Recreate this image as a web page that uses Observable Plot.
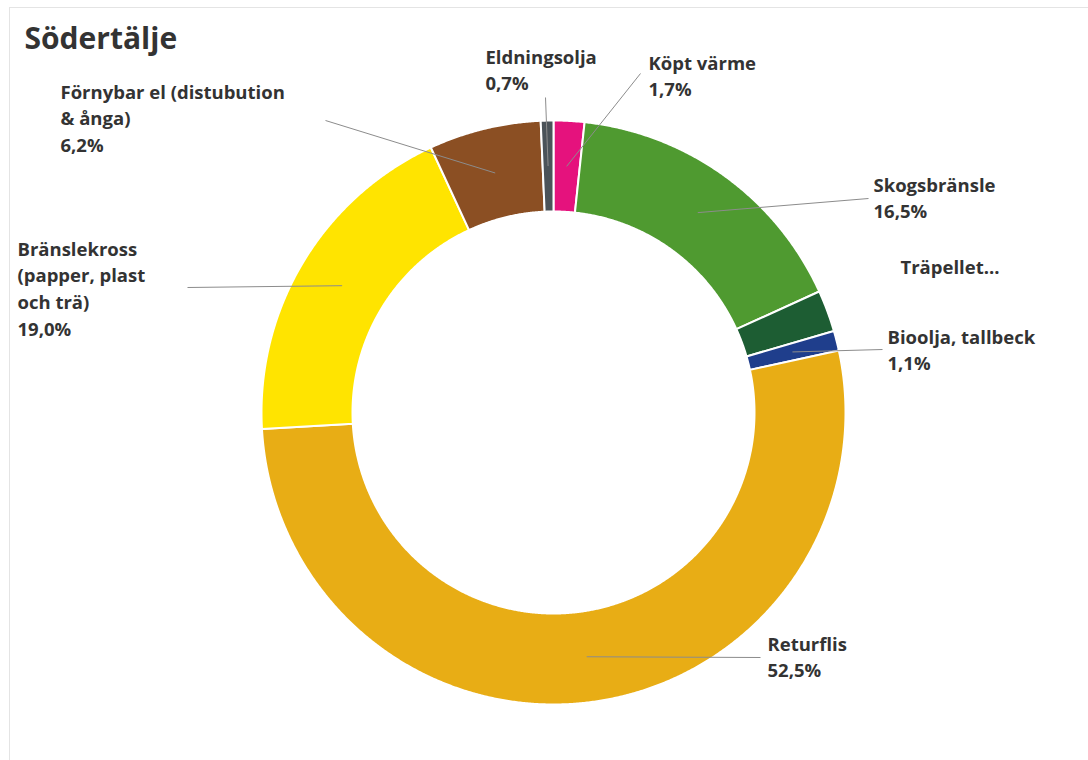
<!DOCTYPE html>
<html><head><meta charset="utf-8">
<script src="https://cdn.jsdelivr.net/npm/d3@7"></script>
<script src="https://cdn.jsdelivr.net/npm/@observablehq/plot@0.6"></script>
<style>
body{margin:0;background:#fff;}
#frame{position:absolute;left:9px;top:7px;width:1079px;height:753px;border-left:1px solid #e4e4e4;border-top:1px solid #e4e4e4;}
#chart{position:absolute;left:0;top:0;}
</style></head><body>
<div id="frame"></div><div id="chart"></div>
<script>
// ---- data ----
const title = "Södertälje";
const names = ["Köpt värme","Skogsbränsle","Träpellet","Bioolja, tallbeck","Returflis","Bränslekross (papper, plast och trä)","Förnybar el (distubution & ånga)","Eldningsolja"];
const shares = [1.7, 16.5, 2.3, 1.1, 52.5, 19.0, 6.2, 0.7];
const colors = ["#e5127d","#4f9a30","#1d5d33","#1f3e8c","#e8ad15","#ffe400","#8b4f23","#4b5359"];
const labelTexts = ["Köpt värme\n1,7%","Skogsbränsle\n16,5%","Träpellet...","Bioolja, tallbeck\n1,1%","Returflis\n52,5%","Bränslekross\n(papper, plast\noch trä)\n19,0%","Förnybar el (distubution\n& ånga)\n6,2%","Eldningsolja\n0,7%"];

// ---- layout (pixels) ----
const W = 1088, H = 760;
const cx = 553, cy = 412, rOuter = 292, rInner = 201;
const labelPos = [[648,50],[873,172],[900,254],[887,324],[767,631],[17,236],[60,79],[485,44]];
const leaderEnd = [[640,73],[868,198],null,[882,349],[760,657],[187,287],[325,120],[545,97]];

const arcs = d3.pie().sort(null).value(d => d)(shares);
const pt = (r, a) => ({x: cx + r * Math.sin(a), y: cy - r * Math.cos(a)});

const ring = [];
arcs.forEach((a, i) => {
  const n = Math.max(4, Math.ceil((a.endAngle - a.startAngle) / 0.005));
  const pts = [];
  for (let k = 0; k <= n; k++) pts.push(pt(rOuter, a.startAngle + (a.endAngle - a.startAngle) * k / n));
  for (let k = n; k >= 0; k--) pts.push(pt(rInner, a.startAngle + (a.endAngle - a.startAngle) * k / n));
  pts.push(pts[0]);
  pts.forEach(p => ring.push({name: names[i], color: colors[i], x: p.x, y: p.y}));
});

const leaders = [];
arcs.forEach((a, i) => {
  if (!leaderEnd[i]) return;
  const m = pt((rOuter + rInner) / 2, (a.startAngle + a.endAngle) / 2);
  leaders.push({x1: m.x, y1: m.y, x2: leaderEnd[i][0], y2: leaderEnd[i][1]});
});

const labels = names.map((n, i) => ({text: labelTexts[i], x: labelPos[i][0], y: labelPos[i][1]}));

const chart = Plot.plot({
  width: W, height: H, margin: 0,
  x: {domain: [0, W], range: [0, W], axis: null},
  y: {domain: [0, H], range: [0, H], axis: null},
  color: {type: "identity"},
  style: {background: "transparent", fontFamily: "'Open Sans', sans-serif"},
  marks: [
    Plot.line(ring, {x: "x", y: "y", z: "name", fill: "color", stroke: "white", strokeWidth: 2, strokeLinejoin: "round"}),
    Plot.link(leaders, {x1: "x1", y1: "y1", x2: "x2", y2: "y2", stroke: "#8c8c8c", strokeWidth: 1}),
    Plot.text(labels, {x: "x", y: "y", text: "text", textAnchor: "start", lineAnchor: "top", fontSize: 18.5, fontWeight: 700, fill: "#333", lineHeight: 1.45}),
    Plot.text([title], {text: d => d, frameAnchor: "top-left", dx: 24, dy: 27, fontSize: 30, fontWeight: 700, fill: "#333"})
  ]
});
document.getElementById("chart").appendChild(chart);
</script></body></html>
